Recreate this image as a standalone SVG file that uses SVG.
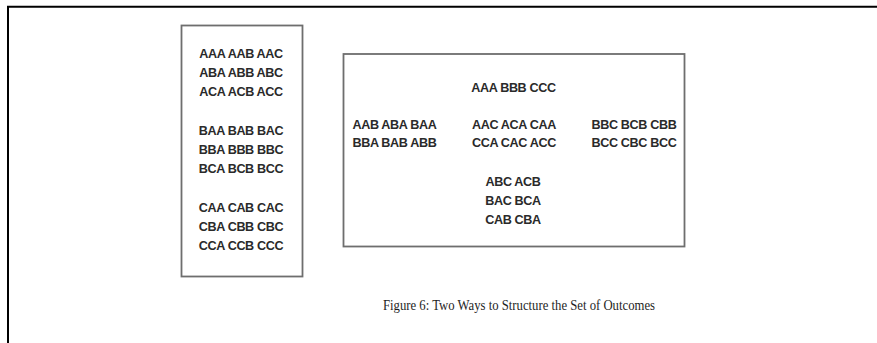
<svg xmlns="http://www.w3.org/2000/svg" width="877" height="343" viewBox="0 0 877 343">
<style>
.frame{stroke:#000;stroke-width:2;fill:none}
.box{fill:#fff;stroke:#6e6e6e;stroke-width:1.8}
.t{font-family:"Liberation Sans",Arial,sans-serif;font-size:12.6px;fill:#2a2a2a;text-anchor:middle;font-weight:bold;letter-spacing:-0.35px}
.cap{font-family:"Liberation Serif","Times New Roman",serif;font-size:14px;fill:#1e1e1e;text-anchor:middle}
</style>
<rect width="877" height="343" fill="#fff"/>
<path class="frame" d="M8,343 V6.8 H877"/>
<g id="left-box">
<rect class="box" x="181.5" y="25.5" width="121" height="251"/>
<text class="t" x="241" y="57.5">AAA AAB AAC</text>
<text class="t" x="241" y="76.5">ABA ABB ABC</text>
<text class="t" x="241" y="96">ACA ACB ACC</text>
<text class="t" x="241" y="134.5">BAA BAB BAC</text>
<text class="t" x="241" y="153.5">BBA BBB BBC</text>
<text class="t" x="241" y="172.5">BCA BCB BCC</text>
<text class="t" x="241" y="211.5">CAA CAB CAC</text>
<text class="t" x="241" y="230.5">CBA CBB CBC</text>
<text class="t" x="241" y="249.5">CCA CCB CCC</text>
</g>
<g id="right-box">
<rect class="box" x="343.5" y="54" width="341" height="192.5"/>
<text class="t" x="513.5" y="91.5">AAA BBB CCC</text>
<text class="t" x="394.5" y="129">AAB ABA BAA</text>
<text class="t" x="394.5" y="146.5">BBA BAB ABB</text>
<text class="t" x="514" y="129">AAC ACA CAA</text>
<text class="t" x="514" y="146.5">CCA CAC ACC</text>
<text class="t" x="634" y="129">BBC BCB CBB</text>
<text class="t" x="634" y="146.5">BCC CBC BCC</text>
<text class="t" x="513" y="186">ABC ACB</text>
<text class="t" x="513" y="205">BAC BCA</text>
<text class="t" x="513" y="224">CAB CBA</text>
</g>
<g id="connectors"></g>
<text class="cap" x="519" y="310" textLength="272" lengthAdjust="spacingAndGlyphs">Figure 6: Two Ways to Structure the Set of Outcomes</text>
</svg>
